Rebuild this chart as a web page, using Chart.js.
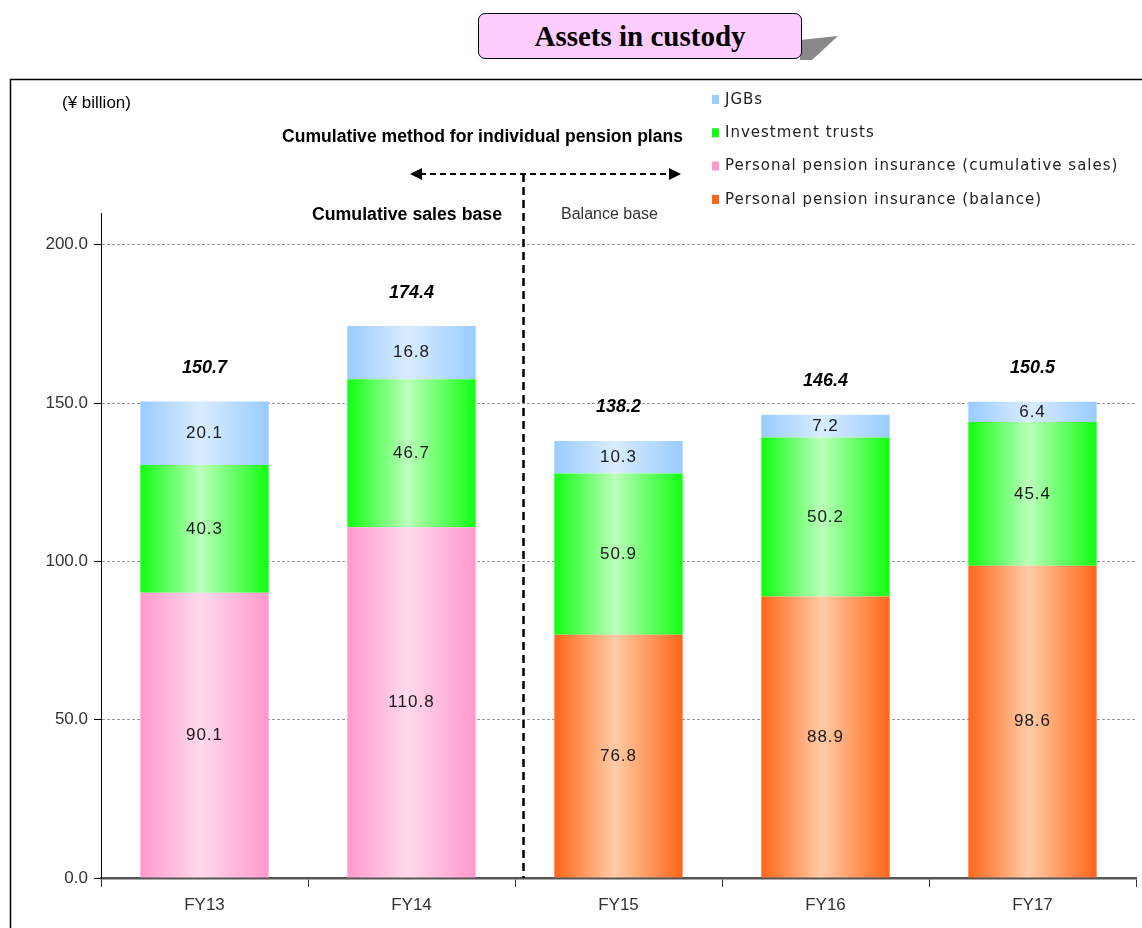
<!DOCTYPE html>
<html>
<head>
<meta charset="utf-8">
<script src="https://cdn.jsdelivr.net/npm/chart.js@4.4.1/dist/chart.umd.min.js"></script>
<style>
    body { margin: 0; background: #fff; }
    #wrap { position: relative; width: 1142px; height: 928px; overflow: hidden; }
    #chart { position: absolute; left: 0; top: 0; }
    .shadow { position: absolute; left: 0; top: 0; }
    .title-box {
        position: absolute; left: 478px; top: 13px; width: 322px; height: 44px;
        border: 1.5px solid #000; border-radius: 7px; background: #ffccff;
        font: bold 29px "Liberation Serif", "Times New Roman", serif;
        text-align: center; line-height: 44px; color: #000;
    }
</style>
</head>
<body>
<div id="wrap">
    <canvas id="chart" width="1142" height="928"></canvas>
    <svg class="shadow" width="1142" height="80">
        <polygon points="800,40 838,36 812,60 800,60" fill="#888"/>
    </svg>
    <div class="title-box">Assets in custody</div>
</div>
<script>
// data
const categories = ["FY13", "FY14", "FY15", "FY16", "FY17"];
const jgbs = [20.1, 16.8, 10.3, 7.2, 6.4];
const investmentTrusts = [40.3, 46.7, 50.9, 50.2, 45.4];
const pensionCumulative = [90.1, 110.8, null, null, null];
const pensionBalance = [null, null, 76.8, 88.9, 98.6];
const totals = [150.7, 174.4, 138.2, 146.4, 150.5];
const yTicks = [0, 50, 100, 150, 200];

const BAR_PCT = 0.62;

// horizontal gradient across each bar: saturated edges, light middle
function barGradient(edge, mid) {
    return ctx => {
        const chart = ctx.chart;
        if (!chart.chartArea || ctx.type !== "data") return edge;
        const xs = chart.scales.x;
        const cx = xs.getPixelForValue(ctx.dataIndex);
        const w = (chart.chartArea.right - chart.chartArea.left) / categories.length * BAR_PCT;
        const g = chart.ctx.createLinearGradient(cx - w / 2, 0, cx + w / 2, 0);
        g.addColorStop(0, edge);
        g.addColorStop(0.47, mid);
        g.addColorStop(1, edge);
        return g;
    };
}

const datasets = [
    { label: "Personal pension insurance (cumulative sales)", data: pensionCumulative, edge: "#ff99cc", mid: "#ffd9ec" },
    { label: "Personal pension insurance (balance)", data: pensionBalance, edge: "#ff6619", mid: "#ffcca6" },
    { label: "Investment trusts", data: investmentTrusts, edge: "#11ff11", mid: "#bbffbb" },
    { label: "JGBs", data: jgbs, edge: "#99ccff", mid: "#d9ecff" },
].map(d => ({
    label: d.label,
    data: d.data,
    legendColor: d.edge,
    backgroundColor: barGradient(d.edge, d.mid),
    borderWidth: 0,
    barPercentage: BAR_PCT,
    categoryPercentage: 1,
}));

// legend order as in the picture
const legendOrder = [3, 2, 0, 1];

const framePlugin = {
    id: "frame",
    beforeDraw(chart) {
        const c = chart.ctx;
        c.save();
        c.strokeStyle = "#000";
        c.lineWidth = 1.5;
        c.beginPath();
        c.moveTo(10.5, 940);
        c.lineTo(10.5, 79.5);
        c.lineTo(1150, 79.5);
        c.stroke();
        c.restore();
    },
};

const labelsPlugin = {
    id: "labels",
    afterDatasetsDraw(chart) {
        const c = chart.ctx;
        const ys = chart.scales.y;
        c.save();
        c.textAlign = "center";
        c.textBaseline = "middle";
        // segment values
        c.font = '17px "Liberation Sans", Arial, sans-serif';
        c.letterSpacing = "1px";
        c.fillStyle = "#1a1a1a";
        chart.data.datasets.forEach((ds, di) => {
            chart.getDatasetMeta(di).data.forEach((bar, i) => {
                const v = ds.data[i];
                if (v == null) return;
                c.fillText(v.toFixed(1), bar.x, (bar.y + bar.base) / 2);
            });
        });
        // totals above the bars
        c.letterSpacing = "0px";
        c.font = 'italic bold 18px "Liberation Sans", Arial, sans-serif';
        c.fillStyle = "#000";
        totals.forEach((t, i) => {
            const x = chart.scales.x.getPixelForValue(i);
            c.fillText(t.toFixed(1), x, ys.getPixelForValue(t) - 33);
        });
        c.restore();
    },
    afterDraw(chart) {
        const c = chart.ctx;
        const xs = chart.scales.x;
        const area = chart.chartArea;
        c.save();
        // unit
        c.fillStyle = "#000";
        c.textBaseline = "middle";
        c.font = '17px "Liberation Sans", Arial, sans-serif';
        c.fillText("(\u00a5 billion)", 62, 103, 76);

        // legend
        c.font = '15px "DejaVu Sans", sans-serif';
        c.letterSpacing = "1px";
        legendOrder.forEach((di, k) => {
            const ds = chart.data.datasets[di];
            const y = 100 + k * 33.3;
            c.fillStyle = ds.legendColor;
            c.fillRect(712, y - 5, 7, 9);
            c.fillStyle = "#222";
            c.fillText(ds.label, 725, y);
        });
        c.letterSpacing = "0px";

        // split line between FY14 and FY15
        const splitX = Math.round((xs.getPixelForValue(1) + xs.getPixelForValue(2)) / 2) + 8.5;
        c.strokeStyle = "#000";
        c.fillStyle = "#000";
        c.lineWidth = 2.5;
        c.setLineDash([8, 5]);
        c.beginPath();
        c.moveTo(splitX, 174);
        c.lineTo(splitX, area.bottom);
        c.stroke();

        // double arrow
        c.lineWidth = 2;
        c.setLineDash([6, 4]);
        c.beginPath();
        c.moveTo(420, 174);
        c.lineTo(670, 174);
        c.stroke();
        c.setLineDash([]);
        c.beginPath();
        c.moveTo(410, 174); c.lineTo(422, 168); c.lineTo(422, 180); c.closePath();
        c.moveTo(681, 174); c.lineTo(669, 168); c.lineTo(669, 180); c.closePath();
        c.fill();

        // headings
        c.textAlign = "right";
        c.font = 'bold 18px "Liberation Sans Narrow", "Liberation Sans", Arial, sans-serif';
        c.fillText("Cumulative method for individual pension plans", 683, 137, 401);
        c.fillText("Cumulative sales base", 502, 215, 190);
        c.textAlign = "left";
        c.fillStyle = "#333";
        c.font = '16px "Liberation Sans", Arial, sans-serif';
        c.fillText("Balance base", 561, 215, 112);
        c.restore();
    },
};

new Chart(document.getElementById("chart"), {
    type: "bar",
    data: { labels: categories, datasets: datasets },
    plugins: [framePlugin, labelsPlugin],
    options: {
        responsive: false,
        animation: false,
        layout: { padding: { top: 213, right: 6, left: 0, bottom: 0 } },
        plugins: { legend: { display: false }, tooltip: { enabled: false } },
        scales: {
            x: {
                stacked: true,
                afterFit: s => { s.height = 50; },
                grid: { drawOnChartArea: false, color: "#333", tickLength: 9 },
                border: { color: "#555", width: 2.5 },
                ticks: { color: "#333", padding: 8, font: { family: '"Liberation Sans", Arial, sans-serif', size: 17 } },
            },
            y: {
                stacked: true,
                min: 0,
                max: 210,
                afterFit: s => { s.width = 101; },
                afterBuildTicks: s => { s.ticks = yTicks.map(v => ({ value: v })); },
                grid: {
                    color: c => (c.tick && c.tick.value === 0 ? "rgba(0,0,0,0)" : "#999"),
                    tickColor: "#000",
                    tickLength: 7,
                    tickBorderDash: [],
                },
                border: { color: "#000", width: 1, dash: [3, 2] },
                ticks: {
                    color: "#333",
                    padding: 6,
                    font: { family: '"Liberation Sans", Arial, sans-serif', size: 17 },
                    callback: v => v.toFixed(1),
                },
            },
        },
    },
});
</script>
</body>
</html>
